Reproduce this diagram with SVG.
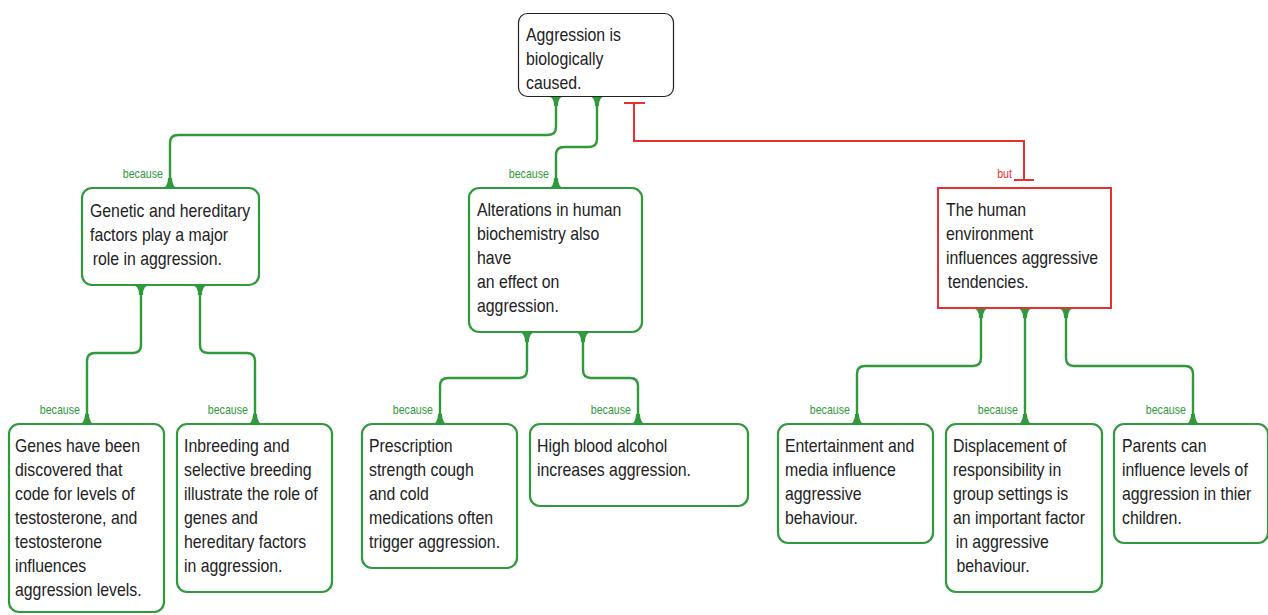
<svg xmlns="http://www.w3.org/2000/svg" width="1268" height="615" viewBox="0 0 1268 615">
<style>
.box{fill:#fff;stroke:#2f9a3c;stroke-width:2.2}
.top{fill:#fff;stroke:#222;stroke-width:1.2}
.red{fill:#fff;stroke:#e8302e;stroke-width:2}
.t{font-family:"Liberation Sans",Arial,sans-serif;font-size:18px;fill:#222}
.lbl{font-family:"Liberation Sans",Arial,sans-serif;font-size:13px;fill:#2f9a3c;text-anchor:end}
.but{font-family:"Liberation Sans",Arial,sans-serif;font-size:13px;fill:#e8302e;text-anchor:end}
.c{fill:none;stroke:#2f9a3c;stroke-width:2.4}
.cr{fill:none;stroke:#e8302e;stroke-width:2}
.f{fill:#2f9a3c}
</style>
<defs>
<path id="fd" d="M-9,0 Q-2,0 -2,10 L2,10 Q2,0 9,0 Z"/>
<path id="fu" d="M-9,0 Q-2,0 -2,-10 L2,-10 Q2,0 9,0 Z"/>
</defs>
<g id="connectors">
<path class="c" d="M556,96 V127 Q556,135 548,135 H178 Q170,135 170,143 V188"/>
<path class="c" d="M597,96 V139 Q597,147 589,147 H564 Q556,147 556,155 V188"/>
<path class="cr" d="M634,103 V141 H1024 V180"/>
<path class="cr" d="M624,103 H645 M1014,180 H1034"/>
<path class="c" d="M141,285 V345 Q141,353 133,353 H95 Q87,353 87,361 V424"/>
<path class="c" d="M200,285 V345 Q200,353 208,353 H247 Q255,353 255,361 V424"/>
<path class="c" d="M527,332 V370 Q527,378 519,378 H448 Q440,378 440,386 V424"/>
<path class="c" d="M583,332 V370 Q583,378 591,378 H630 Q638,378 638,386 V424"/>
<path class="c" d="M981,308 V358 Q981,366 973,366 H865 Q857,366 857,374 V424"/>
<path class="c" d="M1025,308 V424"/>
<path class="c" d="M1066,308 V358 Q1066,366 1074,366 H1185 Q1193,366 1193,374 V424"/>
<g class="f">
<use href="#fd" x="556" y="96"/><use href="#fd" x="597" y="96"/>
<use href="#fu" x="170" y="188"/><use href="#fu" x="556" y="188"/>
<use href="#fd" x="141" y="285"/><use href="#fd" x="200" y="285"/>
<use href="#fd" x="527" y="332"/><use href="#fd" x="583" y="332"/>
<use href="#fd" x="981" y="308"/><use href="#fd" x="1025" y="308"/><use href="#fd" x="1066" y="308"/>
<use href="#fu" x="87" y="424"/><use href="#fu" x="255" y="424"/>
<use href="#fu" x="440" y="424"/><use href="#fu" x="638" y="424"/>
<use href="#fu" x="857" y="424"/><use href="#fu" x="1025" y="424"/><use href="#fu" x="1193" y="424"/>
</g>
<text class="lbl" x="163" y="178" transform="matrix(0.82 0 0 1 29.34 0)">because</text>
<text class="lbl" x="549" y="178" transform="matrix(0.82 0 0 1 98.82 0)">because</text>
<text class="but" x="1012" y="178" transform="matrix(0.82 0 0 1 182.16 0)">but</text>
<text class="lbl" x="80" y="414" transform="matrix(0.82 0 0 1 14.4 0)">because</text>
<text class="lbl" x="248" y="414" transform="matrix(0.82 0 0 1 44.64 0)">because</text>
<text class="lbl" x="433" y="414" transform="matrix(0.82 0 0 1 77.94 0)">because</text>
<text class="lbl" x="631" y="414" transform="matrix(0.82 0 0 1 113.58 0)">because</text>
<text class="lbl" x="850" y="414" transform="matrix(0.82 0 0 1 153 0)">because</text>
<text class="lbl" x="1018" y="414" transform="matrix(0.82 0 0 1 183.24 0)">because</text>
<text class="lbl" x="1186" y="414" transform="matrix(0.82 0 0 1 213.48 0)">because</text>
</g>
<g id="n-root">
<rect class="top" x="518.5" y="13.5" width="155" height="83" rx="9"/>
<text class="t" transform="matrix(0.88 0 0 1 63.12 0)"><tspan x="526" y="41">Aggression is</tspan><tspan x="526" y="65">biologically</tspan><tspan x="526" y="89">caused.</tspan></text>
</g>
<g id="n-genetic">
<rect class="box" x="82" y="188" width="177" height="97" rx="10"/>
<text class="t" transform="matrix(0.88 0 0 1 10.8 0)"><tspan x="90" y="217">Genetic and hereditary</tspan><tspan x="90" y="241">factors play a major</tspan><tspan x="93" y="265">role in aggression.</tspan></text>
</g>
<g id="n-biochem">
<rect class="box" x="469" y="188" width="173" height="144" rx="10"/>
<text class="t" transform="matrix(0.88 0 0 1 57.24 0)"><tspan x="477" y="216">Alterations in human</tspan><tspan x="477" y="240">biochemistry also</tspan><tspan x="477" y="264">have</tspan><tspan x="477" y="288">an effect on</tspan><tspan x="477" y="312">aggression.</tspan></text>
</g>
<g id="n-environment">
<rect class="red" x="938" y="188" width="173" height="120"/>
<text class="t" transform="matrix(0.88 0 0 1 113.52 0)"><tspan x="946" y="216">The human</tspan><tspan x="946" y="240">environment</tspan><tspan x="946" y="264">influences aggressive</tspan><tspan x="948" y="288">tendencies.</tspan></text>
</g>
<g id="n-genes">
<rect class="box" x="9" y="424" width="155" height="188" rx="10"/>
<text class="t" transform="matrix(0.88 0 0 1 1.8 0)"><tspan x="15" y="452">Genes have been</tspan><tspan x="15" y="476">discovered that</tspan><tspan x="15" y="500">code for levels of</tspan><tspan x="15" y="524">testosterone, and</tspan><tspan x="15" y="548">testosterone</tspan><tspan x="15" y="572">influences</tspan><tspan x="15" y="596">aggression levels.</tspan></text>
</g>
<g id="n-inbreeding">
<rect class="box" x="177" y="424" width="155" height="168" rx="10"/>
<text class="t" transform="matrix(0.88 0 0 1 22.08 0)"><tspan x="184" y="452">Inbreeding and</tspan><tspan x="184" y="476">selective breeding</tspan><tspan x="184" y="500">illustrate the role of</tspan><tspan x="184" y="524">genes and</tspan><tspan x="184" y="548">hereditary factors</tspan><tspan x="184" y="572">in aggression.</tspan></text>
</g>
<g id="n-prescription">
<rect class="box" x="362" y="424" width="155" height="144" rx="10"/>
<text class="t" transform="matrix(0.88 0 0 1 44.28 0)"><tspan x="369" y="452">Prescription</tspan><tspan x="369" y="476">strength cough</tspan><tspan x="369" y="500">and cold</tspan><tspan x="369" y="524">medications often</tspan><tspan x="369" y="548">trigger aggression.</tspan></text>
</g>
<g id="n-alcohol">
<rect class="box" x="530" y="424" width="218" height="82" rx="10"/>
<text class="t" transform="matrix(0.88 0 0 1 64.44 0)"><tspan x="537" y="452">High blood alcohol</tspan><tspan x="537" y="476">increases aggression.</tspan></text>
</g>
<g id="n-media">
<rect class="box" x="778" y="424" width="155" height="119" rx="10"/>
<text class="t" transform="matrix(0.88 0 0 1 94.2 0)"><tspan x="785" y="452">Entertainment and</tspan><tspan x="785" y="476">media influence</tspan><tspan x="785" y="500">aggressive</tspan><tspan x="785" y="524">behaviour.</tspan></text>
</g>
<g id="n-displacement">
<rect class="box" x="946" y="424" width="156" height="168" rx="10"/>
<text class="t" transform="matrix(0.88 0 0 1 114.36 0)"><tspan x="953" y="452">Displacement of</tspan><tspan x="953" y="476">responsibility in</tspan><tspan x="953" y="500">group settings is</tspan><tspan x="953" y="524">an important factor</tspan><tspan x="956" y="548">in aggressive</tspan><tspan x="957" y="572">behaviour.</tspan></text>
</g>
<g id="n-parents">
<rect class="box" x="1114" y="424" width="154" height="119" rx="10"/>
<text class="t" transform="matrix(0.88 0 0 1 134.64 0)"><tspan x="1122" y="452">Parents can</tspan><tspan x="1122" y="476">influence levels of</tspan><tspan x="1122" y="500">aggression in thier</tspan><tspan x="1122" y="524">children.</tspan></text>
</g>
</svg>
